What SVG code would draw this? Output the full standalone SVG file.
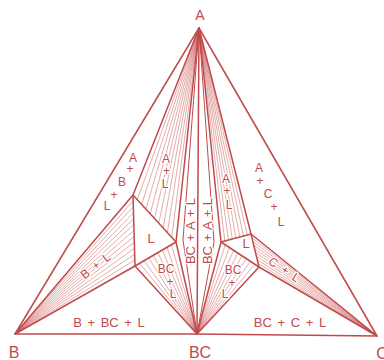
<svg xmlns="http://www.w3.org/2000/svg" width="384" height="360" viewBox="0 0 384 360">
<style>
.ln{fill:none;stroke:#c04a4a;stroke-width:1.5;stroke-linejoin:round;stroke-linecap:round}
.ln2{fill:none;stroke:#c04a4a;stroke-width:1;stroke-linejoin:round}
.h{fill:none;stroke:#c85656;stroke-width:0.7;opacity:0.7}
text{font-family:"Liberation Sans",Arial,sans-serif;fill:#c04a4a;text-anchor:middle}
.lb{font-size:12px;stroke:#fff;stroke-width:2.5;paint-order:stroke;stroke-linejoin:round}
.cn{font-size:16px}
</style>
<rect width="384" height="360" fill="#fff"/>
<g id="hatching">
<path class="h" d="M199,28L137.3,199.7M199,28L141.6,204.4M199,28L145.9,209.1M199,28L150.2,213.8M199,28L154.5,218.5M199,28L158.8,223.2M199,28L163.1,227.9M199,28L167.4,232.6M199,28L171.7,237.3"/>
<path class="h" d="M199,28L224.8,241M199,28L228.5,240M199,28L232.3,239M199,28L236,238M199,28L239.8,237M199,28L243.5,236M199,28L247.3,235"/>
<path class="h" d="M15,334L133.2,200.9M15,334L133.3,206.8M15,334L133.5,212.8M15,334L133.7,218.7M15,334L133.8,224.6M15,334L134,230.5M15,334L134.2,236.4M15,334L134.3,242.3M15,334L134.5,248.3M15,334L134.7,254.2M15,334L134.8,260.1"/>
<path class="h" d="M197,334L139.6,263.3M197,334L144.1,260.7M197,334L148.7,258M197,334L153.2,255.3M197,334L157.8,252.7M197,334L162.3,250M197,334L166.9,247.3M197,334L171.4,244.7"/>
<path class="h" d="M197,334L225.2,244.8M197,334L229.4,247.6M197,334L233.7,250.3M197,334L237.9,253.1M197,334L242.1,255.9M197,334L246.3,258.7M197,334L250.6,261.4M197,334L254.8,264.2"/>
<path class="h" d="M377,336L251.9,237.7M377,336L252.8,241.3M377,336L253.7,245M377,336L254.6,248.7M377,336L255.4,252.3M377,336L256.3,256M377,336L257.2,259.7M377,336L258.1,263.3"/>
</g>
<g id="connectors">
<path class="ln" d="M199,28L15,334L197,334L377,336Z"/>
<path class="ln" d="M199,28L197,334"/>
<path class="ln" d="M199,28L133,195L15,334L135,266L197,334"/>
<path class="ln" d="M133,195L176,242L135,266Z"/>
<path class="ln" d="M199,28L176,242L197,334"/>
<path class="ln2" d="M199,28L183,240L197,334"/>
<path class="ln" d="M199,28L251,234L377,336L259,267L197,334"/>
<path class="ln" d="M221,242L251,234L259,267Z"/>
<path class="ln" d="M199,28L221,242L197,334"/>
<path class="ln2" d="M199,28L214,242L197,334"/>
</g>
<g id="labels">
<text class="cn" x="200" y="20" style="font-size:14px">A</text>
<text class="cn" x="14" y="358">B</text>
<text class="cn" x="200" y="358">BC</text>
<text class="cn" x="382" y="359">C</text>
<text class="lb"><tspan x="133" y="162">A</tspan><tspan x="130" y="173">+</tspan><tspan x="122" y="186">B</tspan><tspan x="114" y="199">+</tspan><tspan x="107" y="210">L</tspan></text>
<text class="lb"><tspan x="166" y="163">A</tspan><tspan x="166.5" y="175">+</tspan><tspan x="165" y="188">L</tspan></text>
<text class="lb" x="151" y="243" style="font-size:13px">L</text>
<text class="lb" transform="translate(98,269) rotate(-38)" style="word-spacing:3px">B + L</text>
<text class="lb"><tspan x="166" y="273">BC</tspan><tspan x="170" y="286">+</tspan><tspan x="173" y="298">L</tspan></text>
<text class="lb" x="109" y="327" style="font-size:13px;word-spacing:2px">B + BC + L</text>
<text class="lb" transform="translate(195,231) rotate(-90)" style="font-size:13px;word-spacing:1px">BC + A + L</text>
<text class="lb" transform="translate(212,231) rotate(-90)" style="font-size:13px;word-spacing:1px">BC + A + L</text>
<text class="lb"><tspan x="226" y="183">A</tspan><tspan x="227" y="195">+</tspan><tspan x="229" y="209">L</tspan></text>
<text class="lb"><tspan x="259" y="172">A</tspan><tspan x="260" y="185">+</tspan><tspan x="268" y="198">C</tspan><tspan x="274" y="211">+</tspan><tspan x="281" y="226">L</tspan></text>
<text class="lb" x="246" y="248" style="font-size:13px">L</text>
<text class="lb"><tspan x="233" y="274">BC</tspan><tspan x="232" y="287">+</tspan><tspan x="225" y="298">L</tspan></text>
<text class="lb" transform="translate(282,273) rotate(34)" style="word-spacing:3px">C + L</text>
<text class="lb" x="290" y="327" style="font-size:13px;word-spacing:2px">BC + C + L</text>
</g>
</svg>
